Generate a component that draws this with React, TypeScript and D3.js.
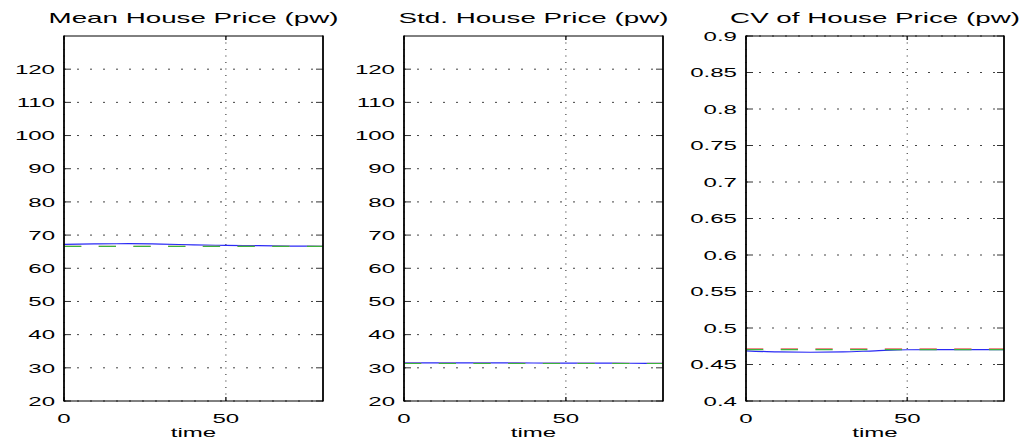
import React from "react";
import * as d3 from "d3";

// Time samples (every 10 steps)
const time = [0, 10, 20, 30, 40, 50, 60, 70, 80];

// Mean house price
const meanBlue = [67.2, 67.35, 67.4, 67.3, 67.05, 66.9, 66.8, 66.7, 66.6];
const meanRed = [66.6, 66.6, 66.6, 66.6, 66.6, 66.6, 66.6, 66.6, 66.6];
const meanGreen = [66.6, 66.6, 66.6, 66.6, 66.6, 66.6, 66.6, 66.6, 66.6];

// Standard deviation of house price
const stdBlue = [31.5, 31.5, 31.5, 31.48, 31.45, 31.42, 31.4, 31.38, 31.35];
const stdRed = [31.35, 31.35, 31.35, 31.35, 31.35, 31.35, 31.35, 31.35, 31.35];
const stdGreen = [31.3, 31.3, 31.3, 31.3, 31.3, 31.3, 31.3, 31.3, 31.3];

// Coefficient of variation of house price
const cvBlue = [0.4687, 0.4672, 0.4668, 0.4672, 0.4688, 0.4702, 0.4705, 0.4705, 0.4705];
const cvRed = [0.4718, 0.4718, 0.4718, 0.4718, 0.4718, 0.4718, 0.4718, 0.4718, 0.4718];
const cvGreen = [0.4705, 0.4705, 0.4705, 0.4705, 0.4705, 0.4705, 0.4705, 0.4705, 0.4705];

const xTicks = [0, 50];
const priceTicks = [20, 30, 40, 50, 60, 70, 80, 90, 100, 110, 120];
const cvTicks = [0.4, 0.45, 0.5, 0.55, 0.6, 0.65, 0.7, 0.75, 0.8, 0.85, 0.9];

const titles = ["Mean House Price (pw)", "Std. House Price (pw)", "CV of House Price (pw)"];

const W = 1024;
const H = 440;
const TOP = 36;
const BOTTOM = 401;
const SX = 1.85; // horizontal stretch of the figure's text

const FONT = "'Liberation Sans', Arial, Helvetica, sans-serif";

type Panel = {
  title: string;
  left: number;
  right: number;
  yDomain: [number, number];
  yTicks: number[];
  fmt: (v: number) => string;
  blue: number[];
  red: number[];
  green: number[];
};

const panels: Panel[] = [
  { title: titles[0], left: 64, right: 323, yDomain: [20, 130], yTicks: priceTicks, fmt: (v) => String(v), blue: meanBlue, red: meanRed, green: meanGreen },
  { title: titles[1], left: 404, right: 663, yDomain: [20, 130], yTicks: priceTicks, fmt: (v) => String(v), blue: stdBlue, red: stdRed, green: stdGreen },
  { title: titles[2], left: 746, right: 1004, yDomain: [0.4, 0.9], yTicks: cvTicks, fmt: (v) => d3.format("")(+v.toFixed(2)), blue: cvBlue, red: cvRed, green: cvGreen },
];

function StretchText(props: { x: number; y: number; size: number; anchor: string; children: React.ReactNode }) {
  return (
    <text
      transform={`translate(${props.x},${props.y}) scale(${SX},1)`}
      fontFamily={FONT}
      fontSize={props.size}
      textAnchor={props.anchor as any}
      fill="#000"
    >
      {props.children}
    </text>
  );
}

function PanelView({ p }: { p: Panel }) {
  const x = d3.scaleLinear().domain([0, 80]).range([p.left, p.right]);
  const y = d3.scaleLinear().domain(p.yDomain).range([BOTTOM, TOP]);
  const mk = (vals: number[]) =>
    d3
      .line<number>()
      .x((_, i) => x(time[i]))
      .y((v) => y(v))
      .curve(d3.curveMonotoneX)(vals) || "";
  const cx = (p.left + p.right) / 2;
  return (
    <g>
      {/* grid */}
      {p.yTicks.map((t) => (
        <line key={"gy" + t} x1={p.left} x2={p.right} y1={y(t)} y2={y(t)} stroke="#444" strokeWidth={1} strokeDasharray="2 11" />
      ))}
      {xTicks.map((t) => (
        <line key={"gx" + t} x1={x(t)} x2={x(t)} y1={TOP} y2={BOTTOM} stroke="#444" strokeWidth={1.2} strokeDasharray="1 5.5" />
      ))}
      {/* series */}
      <path d={mk(p.blue)} fill="none" stroke="#2a2af5" strokeWidth={1.2} />
      <path d={mk(p.red)} fill="none" stroke="#f08a8a" strokeWidth={1.2} strokeDasharray="17.3 17.4" />
      <path d={mk(p.green)} fill="none" stroke="#3cb23c" strokeWidth={1.2} strokeDasharray="17.3 17.4" />
      {/* ticks */}
      {p.yTicks.map((t) => (
        <g key={"ty" + t}>
          <line x1={p.left} x2={p.left + 7} y1={y(t)} y2={y(t)} stroke="#333" strokeWidth={1} />
          <line x1={p.right - 7} x2={p.right} y1={y(t)} y2={y(t)} stroke="#333" strokeWidth={1} />
          <StretchText x={p.left - 9} y={y(t) + 4.7} size={13} anchor="end">
            {p.fmt(t)}
          </StretchText>
        </g>
      ))}
      {xTicks.map((t) => (
        <g key={"tx" + t}>
          <line x1={x(t)} x2={x(t)} y1={BOTTOM} y2={BOTTOM - 4} stroke="#333" strokeWidth={1.6} />
          <line x1={x(t)} x2={x(t)} y1={TOP} y2={TOP + 4} stroke="#333" strokeWidth={1.6} />
          <StretchText x={x(t)} y={BOTTOM + 22} size={13} anchor="middle">
            {t}
          </StretchText>
        </g>
      ))}
      {/* box */}
      <line x1={p.left} x2={p.right} y1={TOP} y2={TOP} stroke="#000" strokeWidth={1} />
      <line x1={p.left} x2={p.right} y1={BOTTOM} y2={BOTTOM} stroke="#000" strokeWidth={1} />
      <line x1={p.left} x2={p.left} y1={TOP - 0.5} y2={BOTTOM + 0.5} stroke="#000" strokeWidth={1.8} />
      <line x1={p.right} x2={p.right} y1={TOP - 0.5} y2={BOTTOM + 0.5} stroke="#000" strokeWidth={1.8} />
      {/* labels */}
      <StretchText x={cx} y={23} size={15} anchor="middle">
        {p.title}
      </StretchText>
      <StretchText x={cx} y={437} size={13} anchor="middle">
        time
      </StretchText>
    </g>
  );
}

export default function App() {
  return (
    <svg width={W} height={H} style={{ position: "absolute", left: 0, top: 0, background: "#fff" }}>
      <rect width={W} height={H} fill="#fff" />
      {panels.map((p) => (
        <PanelView key={p.title} p={p} />
      ))}
    </svg>
  );
}
